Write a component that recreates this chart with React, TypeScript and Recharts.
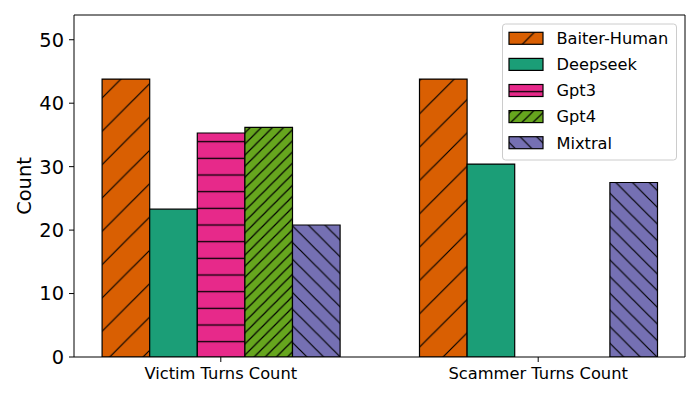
import React from 'react';
import { BarChart, Bar, XAxis, YAxis } from 'recharts';

const categories = ['Victim Turns Count', 'Scammer Turns Count'];
const seriesNames = ['Baiter-Human', 'Deepseek', 'Gpt3', 'Gpt4', 'Mixtral'];
const baiterHuman = [43.8, 43.8];
const deepseek = [23.3, 30.4];
const gpt3 = [35.3, null];
const gpt4 = [36.2, null];
const mixtral = [20.8, 27.5];
const yTicks = [0, 10, 20, 30, 40, 50];

const seriesKeys = ['baiter', 'deepseek', 'gpt3', 'gpt4', 'mixtral'];
const colors = ['#d95f02', '#1b9e77', '#e7298a', '#66a61e', '#7570b3'];
const fills = ['url(#hBaiter)', '#1b9e77', 'url(#hGpt3)', 'url(#hGpt4)', 'url(#hMixtral)'];

const data = categories.map((name, i) => ({
  x: i,
  name,
  baiter: baiterHuman[i],
  deepseek: deepseek[i],
  gpt3: gpt3[i],
  gpt4: gpt4[i],
  mixtral: mixtral[i],
}));

const FONT = 'DejaVu Sans, sans-serif';

function NE({ id, color, s }: { id: string; color: string; s: number }) {
  return (
    <pattern id={id} patternUnits="userSpaceOnUse" width={s} height={s}>
      <rect x={0} y={0} width={s} height={s} fill={color} />
      <path
        d={`M0,${s} L${s},0 M-1,1 L1,-1 M${s - 1},${s + 1} L${s + 1},${s - 1}`}
        stroke="#000"
        strokeWidth={1.2}
      />
    </pattern>
  );
}

function NW({ id, color, s }: { id: string; color: string; s: number }) {
  return (
    <pattern id={id} patternUnits="userSpaceOnUse" width={s} height={s}>
      <rect x={0} y={0} width={s} height={s} fill={color} />
      <path
        d={`M0,0 L${s},${s} M${s - 1},-1 L${s + 1},1 M-1,${s - 1} L1,${s + 1}`}
        stroke="#000"
        strokeWidth={1.2}
      />
    </pattern>
  );
}

function HZ({ id, color, s }: { id: string; color: string; s: number }) {
  return (
    <pattern id={id} patternUnits="userSpaceOnUse" width={s} height={s}>
      <rect x={0} y={0} width={s} height={s} fill={color} />
      <path d={`M0,${s / 2} L${s},${s / 2}`} stroke="#000" strokeWidth={1.3} />
    </pattern>
  );
}

function LegendBox() {
  const rowY = (i: number) => 38.3 + 26.1 * i;
  return (
    <g>
      <rect x={502.5} y={24} width={174} height={136} rx={3} ry={3} fill="#fff" fillOpacity={0.8} stroke="#cccccc" strokeWidth={1} />
      {seriesNames.map((n, i) => (
        <g key={n}>
          <rect x={509} y={rowY(i) - 6} width={34} height={12} fill={fills[i]} stroke="#000" strokeWidth={1.2} />
          <text x={556.5} y={rowY(i)} dy="0.36em" fontSize={16.2} fontFamily={FONT} fill="#000">
            {n}
          </text>
        </g>
      ))}
    </g>
  );
}

export default function App() {
  return (
    <div style={{ position: 'absolute', left: 0, top: 0, width: 700, height: 400, background: '#fff' }}>
      <BarChart
        width={700}
        height={400}
        data={data}
        margin={{ top: 14, right: 14, bottom: 0, left: 0 }}
        barGap={0}
        barCategoryGap={0}
      >
        <defs>
          <NE id="hBaiter" color={colors[0]} s={33.333} />
          <HZ id="hGpt3" color={colors[2]} s={16.667} />
          <NE id="hGpt4" color={colors[3]} s={11.111} />
          <NW id="hMixtral" color={colors[4]} s={16.667} />
        </defs>
        <XAxis
          dataKey="x"
          type="number"
          domain={[-0.4625, 1.4625]}
          allowDataOverflow
          ticks={[0, 1]}
          tickFormatter={(v: number) => categories[v]}
          height={43}
          tickSize={5}
          tickMargin={5}
          axisLine={{ stroke: '#000', strokeWidth: 1 }}
          tickLine={{ stroke: '#000', strokeWidth: 1 }}
          tick={{ fill: '#000', fontSize: 16.3, fontFamily: FONT }}
          interval={0}
        />
        <XAxis
          xAxisId="top"
          dataKey="x"
          type="number"
          orientation="top"
          domain={[-0.4625, 1.4625]}
          allowDataOverflow
          height={1}
          tick={false}
          tickLine={false}
          axisLine={{ stroke: '#000', strokeWidth: 1 }}
        />
        <YAxis
          type="number"
          domain={[0, 53.9]}
          allowDataOverflow
          ticks={yTicks}
          width={74}
          tickSize={5}
          tickMargin={5}
          axisLine={{ stroke: '#000', strokeWidth: 1 }}
          tickLine={{ stroke: '#000', strokeWidth: 1 }}
          tick={{ fill: '#000', fontSize: 19.4, fontFamily: FONT }}
          label={{
            content: () => (
              <text
                x={31}
                y={186}
                transform="rotate(-90,31,186)"
                textAnchor="middle"
                fontSize={19.4}
                fontFamily={FONT}
                fill="#000"
              >
                Count
              </text>
            ),
          }}
        />
        <YAxis
          yAxisId="right"
          orientation="right"
          type="number"
          domain={[0, 53.9]}
          width={1}
          tick={false}
          tickLine={false}
          axisLine={{ stroke: '#000', strokeWidth: 1 }}
        />
        {seriesKeys.map((k, i) => (
          <Bar
            key={k}
            dataKey={k}
            name={seriesNames[i]}
            fill={fills[i]}
            stroke="#000"
            strokeWidth={1.2}
            barSize={47.6}
            isAnimationActive={false}
          />
        ))}
        <LegendBox />
      </BarChart>
    </div>
  );
}
